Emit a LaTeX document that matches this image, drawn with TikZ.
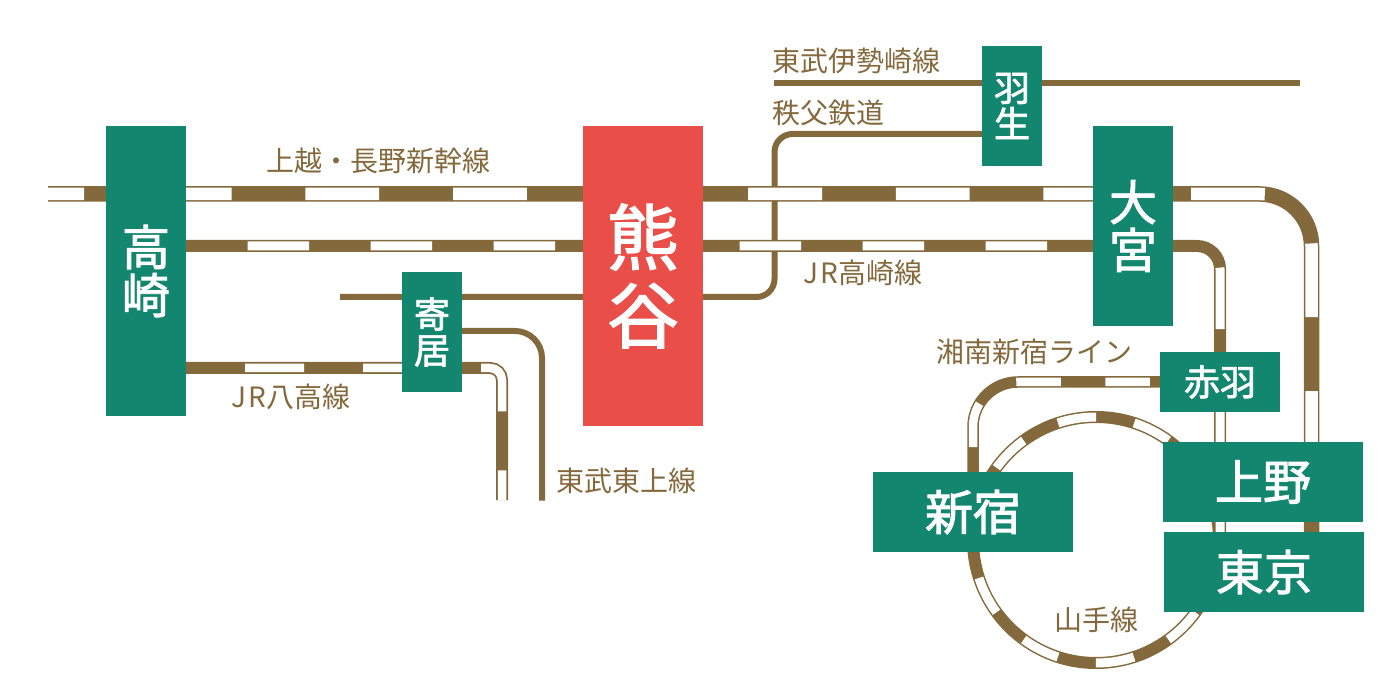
\documentclass[tikz,border=0pt]{standalone}
\usepackage{fontspec}
\setmainfont{Noto Sans CJK JP}
\newfontfamily\stafont[FakeBold=2]{Noto Sans CJK JP}
\newcommand{\jrmark}{{\addfontfeature{LetterSpace=9}JR}}
\usepackage{xcolor}
\usetikzlibrary{positioning,calc}
\definecolor{linebrown}{RGB}{132,105,60}
\definecolor{stagreen}{RGB}{19,134,112}
\definecolor{stared}{RGB}{233,78,72}
\pgfdeclarelayer{rails}
\pgfsetlayers{rails,main}

\begin{document}
\begin{tikzpicture}[x=1pt, y=-1pt,
      sta/.style={fill=stagreen, text=white, align=center, inner sep=0pt},
      stamain/.style={sta, fill=stared},
      linelabel/.style={text=linebrown, inner sep=0pt, font=\fontsize{28}{28}\selectfont},
      thinline/.style={draw=linebrown, line width=6pt},
      rail/.style n args={4}{draw=linebrown, line width=#1pt,
                  postaction={draw=white, line width=#2pt,
                  dash pattern=on #3pt off #3pt, dash phase=#4pt}}]
    \useasboundingbox (0,0) rectangle (1400,700);
    % stations
    \node[sta, minimum width=80pt, minimum height=290pt, font=\stafont\fontsize{48}{48}\selectfont] (takasaki) at (146,271) {高\\崎};
    \node[stamain, minimum width=120pt, minimum height=300pt, font=\stafont\fontsize{72}{78}\selectfont] (kumagaya) at (643,276) {熊\\谷};
    \node[sta, minimum width=80pt, minimum height=200pt, font=\stafont\fontsize{48}{48}\selectfont] (omiya) at (1133,226) {大\\宮};
    \node[sta, minimum width=60pt, minimum height=120pt, font=\stafont\fontsize{36}{36}\selectfont] (hanyu) at (1012,106) {羽\\生};
    \node[sta, minimum width=60pt, minimum height=120pt, font=\stafont\fontsize{36}{36}\selectfont] (yorii) at (432,332) {寄\\居};
    \node[sta, minimum width=120pt, minimum height=60pt, font=\stafont\fontsize{36}{36}\selectfont] (akabane) at (1220,382) {赤羽};
    \node[sta, minimum width=200pt, minimum height=80pt, font=\stafont\fontsize{48}{48}\selectfont] (ueno) at (1263,482) {上野};
    \node[sta, minimum width=200pt, minimum height=80pt, font=\stafont\fontsize{48}{48}\selectfont] (tokyo) at (1264,572) {東京};
    \node[sta, minimum width=200pt, minimum height=80pt, font=\stafont\fontsize{48}{48}\selectfont] (shinjuku) at (973,512) {新宿};
    % free ends of the lines
    \coordinate (shinL) at (48,194);
    \coordinate (shinC) at (1311.5,194);
    \coordinate (isesakiL) at (774,83);
    \coordinate (isesakiR) at (1300,83);
    \coordinate (chichibuL) at (340,297);
    \coordinate (chichibuC) at (774.5,134);
    \coordinate (tojoC) at (542,331);
    \coordinate (tojoE) at (542,500.5);
    \coordinate (hachikoC) at (502,368);
    \coordinate (hachikoE) at (502,500);
    \coordinate (takasakiC) at (1220,246);
    \coordinate (shonanC) at (973,382);
    \coordinate (ringtop) at (1096,417);
    % line names
    \node[linelabel] (isesakilab) at (856,61) {東武伊勢崎線};
    \node[linelabel] (chichibulab) at (828,113) {秩父鉄道};
    \node[linelabel] (shinlab) at (378,161) {上越・長野新幹線};
    \node[linelabel] (takasakilab) at (863,273) {\jrmark 高崎線};
    \node[linelabel] (shonanlab) at (1034,352) {湘南新宿ライン};
    \node[linelabel] (yamanotelab) at (1096,620) {山手線};
    \node[linelabel] (tojolab) at (626,481) {東武東上線};
    \node[linelabel] (hachikolab) at (291,397) {\jrmark 八高線};
    \begin{pgfonlayer}{rails}
      \draw[thinline] (isesakiL) -- (isesakiR);
      \draw[thinline, rounded corners=18pt] (chichibuL) -| (chichibuC) -- (chichibuC -| hanyu.west);
      \draw[thinline, rounded corners=27pt] (yorii.east |- tojoC) -- (tojoC) -- (tojoE);
      \draw[rail={12}{9}{38.64}{0}] (ringtop) arc[start angle=-90, end angle=-450, radius=123];
      \draw[rail={15.5}{12.5}{73.8}{37.8}, rounded corners=52pt] (shinL) -- (shinC) -- (shinC |- tokyo.north);
      \draw[rail={12}{9}{61.5}{61.5}, rounded corners=23pt] (takasaki.east |- takasakiC) -- (takasakiC) -- (takasakiC |- tokyo.north);
      \draw[rail={12}{8.5}{59}{59}, rounded corners=12pt] (takasaki.east |- hachikoC) -- (hachikoC) -- (hachikoE);
      \draw[rail={11.5}{8.5}{44.5}{79}, rounded corners=45pt] (akabane.west) -- (shonanC) -- (shinjuku.north);
    \end{pgfonlayer}
\end{tikzpicture}
\end{document}
